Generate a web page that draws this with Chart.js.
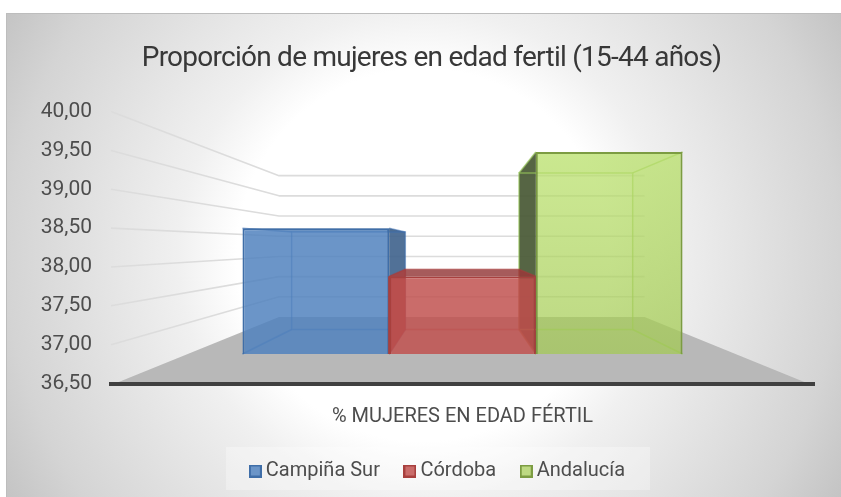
<!DOCTYPE html>
<html>
<head>
<meta charset="utf-8">
<style>html,body{margin:0;padding:0;background:#fff}canvas{display:block}</style>
<script src="https://cdn.jsdelivr.net/npm/chart.js@4"></script>
</head>
<body>
<div style="width:841px;height:497px;position:relative"><canvas id="c" width="841" height="497"></canvas></div>
<script>
const categories = ['% MUJERES EN EDAD FÉRTIL'];
const seriesNames = ['Campiña Sur', 'Córdoba', 'Andalucía'];
const campinaSur = [38.5];
const cordoba = [37.88];
const andalucia = [39.48];
const titleText = 'Proporción de mujeres en edad fertil (15-44 años)';
const FONT = "'Roboto','Liberation Sans',sans-serif";

// perspective styling
const VP = {x: 461, y: 245};
const BAR_DEPTH = 0.775;
const WALL_DEPTH = 0.52;
const project = (x, y, k) => ({x: VP.x + (x - VP.x) * k, y: VP.y + (y - VP.y) * k});

const faces = [
  {stroke: '#3f6ea8', inner: 'rgba(60,110,175,.55)', side: 'rgba(62,98,140,.9)', top: 'rgba(62,98,140,.35)', sideL: 'rgba(60,100,160,.0)'},
  {stroke: '#a8403e', inner: 'rgba(170,60,60,.45)', side: 'rgba(150,50,50,.28)', top: 'rgba(150,62,62,.85)', sideL: 'rgba(165,70,72,.85)'},
  {stroke: '#7c9c42', inner: 'rgba(150,195,90,.7)', side: 'rgba(150,190,90,.08)', top: 'rgba(150,190,90,.08)', sideL: 'rgba(72,88,52,.92)'}
];
const fronts = ['rgba(79,129,189,.84)', 'rgba(192,80,77,.84)', 'rgba(163,202,82,.72)'];

function poly(ctx, pts, fill, stroke, lw) {
  ctx.beginPath();
  pts.forEach((p, i) => i ? ctx.lineTo(p.x, p.y) : ctx.moveTo(p.x, p.y));
  ctx.closePath();
  if (fill) { ctx.fillStyle = fill; ctx.fill(); }
  if (stroke) { ctx.strokeStyle = stroke; ctx.lineWidth = lw || 1; ctx.stroke(); }
}

const scene = {
  id: 'scene',
  afterLayout(chart) {
    const t = chart.titleBlock, l = chart.legend;
    t.left = 22; t.right = 841;
    l.left = 39; l.right = 841;
    if (!t._spaced) {
      t._spaced = true;
      const draw = t.draw.bind(t);
      t.draw = (...args) => {
        const c = chart.ctx;
        c.save(); c.letterSpacing = '-0.75px'; draw(...args); c.restore();
      };
    }
  },
  beforeDraw(chart) {
    const ctx = chart.ctx, W = chart.width, H = chart.height;
    ctx.save();
    ctx.fillStyle = '#fff'; ctx.fillRect(0, 0, W, H);
    const g = ctx.createRadialGradient(423, 255, 0, 423, 255, 490);
    g.addColorStop(0, '#ffffff'); g.addColorStop(.38, '#ffffff'); g.addColorStop(.5, '#f0f0f0');
    g.addColorStop(.85, '#d4d4d4'); g.addColorStop(1, '#c2c2c2');
    ctx.fillStyle = g; ctx.fillRect(6, 13, W - 6, H - 13);
    ctx.fillStyle = '#bdbdbd'; ctx.fillRect(6, 13, W - 6, 1); ctx.fillRect(6, 13, 1, H - 13);
    // legend panel
    ctx.fillStyle = 'rgba(255,255,255,.3)'; ctx.fillRect(226, 447, 424, 43);
    // walls
    const y = chart.scales.y, a = chart.chartArea;
    ctx.strokeStyle = '#dcdcdc'; ctx.lineWidth = 1.6; ctx.lineJoin = 'round';
    y.ticks.forEach(t => {
      const py = y.getPixelForValue(t.value);
      if (t.value === y.min) return;
      const b1 = project(a.left, py, WALL_DEPTH), b2 = project(a.right, py, WALL_DEPTH);
      ctx.beginPath(); ctx.moveTo(a.left, py); ctx.lineTo(b1.x, b1.y); ctx.lineTo(b2.x, b2.y); ctx.stroke();
    });
    // floor
    const p0 = y.getPixelForValue(y.min);
    poly(ctx, [{x: a.left + 4, y: p0}, project(a.left, p0, WALL_DEPTH), project(a.right, p0, WALL_DEPTH), {x: a.right - 6, y: p0}], '#b8b8b8');
    ctx.restore();
  },
  beforeDatasetsDraw(chart) {
    const ctx = chart.ctx;
    ctx.save();
    [2, 0, 1].forEach(i => {
      const el = chart.getDatasetMeta(i).data[0];
      const l = el.x - el.width / 2, r = el.x + el.width / 2, t = el.y, b = el.base;
      const f = faces[i];
      const bl = project(l, b, BAR_DEPTH), br = project(r, b, BAR_DEPTH), tl = project(l, t, BAR_DEPTH), tr = project(r, t, BAR_DEPTH);
      const A = {x: l, y: t}, B = {x: r, y: t}, C = {x: r, y: b}, D = {x: l, y: b};
      poly(ctx, [A, B, tr, tl], f.top);
      poly(ctx, [B, C, br, tr], f.side);
      poly(ctx, [A, D, bl, tl], f.sideL);
      poly(ctx, [tl, tr, br, bl], null, f.inner, 1.5);
      ctx.strokeStyle = f.inner; ctx.lineWidth = 1.5;
      [[A, tl], [B, tr], [C, br], [D, bl]].forEach(([p, q]) => {
        ctx.beginPath(); ctx.moveTo(p.x, p.y); ctx.lineTo(q.x, q.y); ctx.stroke();
      });
    });
    ctx.restore();
  },
  afterDatasetsDraw(chart) {
    // the middle bar's edge sits in front of the first bar's edge
    const ctx = chart.ctx, el = chart.getDatasetMeta(1).data[0], l = el.x - el.width / 2;
    ctx.save();
    ctx.strokeStyle = faces[1].stroke; ctx.lineWidth = 2;
    ctx.beginPath(); ctx.moveTo(l, el.y); ctx.lineTo(l, el.base); ctx.stroke();
    ctx.restore();
  }
};

function swatch(i) {
  const c = document.createElement('canvas');
  c.width = 13; c.height = 13;
  const x = c.getContext('2d');
  x.fillStyle = '#fff'; x.fillRect(0, 0, 13, 13);
  x.fillStyle = fronts[i]; x.fillRect(0, 0, 13, 13);
  x.strokeStyle = faces[i].stroke; x.lineWidth = 2; x.strokeRect(1, 1, 11, 11);
  return c;
}
const swatches = [0, 1, 2].map(swatch);

function greenFill(ctx) {
  const ch = ctx.chart, a = ch.chartArea;
  if (!a) return fronts[2];
  const g = ch.ctx.createLinearGradient(0, a.top + 40, 0, a.bottom);
  g.addColorStop(0, 'rgba(185,225,105,.72)');
  g.addColorStop(1, 'rgba(160,198,80,.72)');
  return g;
}

new Chart(document.getElementById('c'), {
  type: 'bar',
  plugins: [scene],
  data: {
    labels: categories,
    datasets: [campinaSur, cordoba, andalucia].map((d, i) => ({
      label: seriesNames[i],
      data: d,
      base: 36.88,
      backgroundColor: i === 2 ? greenFill : fronts[i],
      borderColor: faces[i].stroke,
      borderWidth: 2,
      categoryPercentage: 0.626,
      barPercentage: 1
    }))
  },
  options: {
    responsive: false,
    animation: false,
    devicePixelRatio: 1,
    layout: {padding: {left: 22, right: 27, top: 14, bottom: 6}},
    plugins: {
      tooltip: {enabled: false},
      title: {
        display: true, text: titleText, color: '#383838',
        font: {family: FONT, size: 28, weight: 'normal'},
        padding: {top: 28, bottom: 36}
      },
      legend: {
        position: 'bottom',
        labels: {
          color: '#4d4d4d',
          font: {family: FONT, size: 20},
          usePointStyle: true,
          pointStyleWidth: 1,
          padding: 29.5,
          generateLabels(chart) {
            return Chart.defaults.plugins.legend.labels.generateLabels(chart).map((it, i) => ({...it, pointStyle: swatches[i]}));
          }
        }
      }
    },
    scales: {
      x: {
        type: 'category',
        grid: {display: false, drawTicks: false},
        border: {display: true, color: '#404040', width: 4},
        ticks: {display: false},
        title: {display: true, text: categories[0], color: '#4d4d4d', font: {family: FONT, size: 20}, padding: {top: 21, bottom: 3}}
      },
      y: {
        min: 36.5, max: 40,
        afterFit(s) { s.width = 89; },
        grid: {display: false, drawTicks: false},
        border: {display: false},
        ticks: {
          stepSize: 0.5,
          padding: 19,
          color: '#4d4d4d',
          font: {family: FONT, size: 21},
          callback: v => v.toFixed(2).replace('.', ',')
        }
      }
    }
  }
});
</script>
</body>
</html>
